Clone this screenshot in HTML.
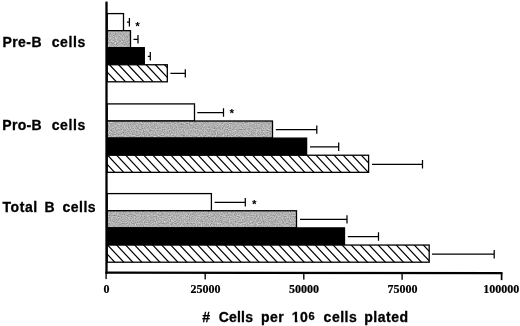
<!DOCTYPE html>
<html><head><meta charset="utf-8"><title>B cells chart</title>
<style>
html,body{margin:0;padding:0;background:#fff;}
body{width:520px;height:326px;overflow:hidden;}
svg{display:block;}
.lab{font-family:"Liberation Sans",Arial,Helvetica,sans-serif;font-weight:bold;font-size:14px;fill:#000;stroke:#000;stroke-width:0.3px;}
.tick{font-family:"Liberation Serif","Times New Roman",serif;font-weight:bold;font-size:12px;fill:#000;text-anchor:middle;stroke:#000;stroke-width:0.2px;}
</style></head><body>
<svg width="520" height="326" viewBox="0 0 520 326">
<defs>

<filter id="noise" x="0" y="0" width="100%" height="100%" color-interpolation-filters="sRGB">
<feTurbulence type="fractalNoise" baseFrequency="0.85" numOctaves="2" seed="7" result="t"/>
<feColorMatrix in="t" type="matrix" values="0.5 0 0 0 0.44  0.5 0 0 0 0.44  0.5 0 0 0 0.44  0 0 0 0 1" result="g"/>
<feComposite in="g" in2="SourceGraphic" operator="in"/>
</filter>
<clipPath id="one"><path d="M285,305H320V326H299.7V320H297.4V326H294.8V320H285Z"/></clipPath>
</defs>
<rect width="520" height="326" fill="#fff"/>

<rect x="107.15" y="13.60" width="16.35" height="17.05" fill="#fff" stroke="#000" stroke-width="1.3"/>
<path d="M127.00,22.23 H129.90 M129.40,18.03 V26.43" stroke="#000" stroke-width="1.25" fill="none"/>
<rect x="107.15" y="30.65" width="23.35" height="17.05" fill="#b4b4b4" filter="url(#noise)"/>
<rect x="107.15" y="30.65" width="23.35" height="17.05" fill="none" stroke="#000" stroke-width="1.3"/>
<path d="M133.50,39.27 H138.50 M138.00,35.07 V43.48" stroke="#000" stroke-width="1.25" fill="none"/>
<rect x="107.15" y="47.70" width="37.15" height="17.05" fill="#000" stroke="#000" stroke-width="1.3"/>
<path d="M147.80,56.33 H150.80 M150.30,52.12 V60.53" stroke="#000" stroke-width="1.25" fill="none"/>
<rect x="107.15" y="64.75" width="60.15" height="17.05" fill="#fff" stroke="#000" stroke-width="1.3"/>
<clipPath id="hc0"><rect x="107.15" y="64.75" width="60.15" height="17.05"/></clipPath>
<path d="M81.09,63.75L99.00,82.80M90.26,63.75L108.17,82.80M99.43,63.75L117.34,82.80M108.60,63.75L126.51,82.80M117.77,63.75L135.68,82.80M126.94,63.75L144.85,82.80M136.11,63.75L154.02,82.80M145.28,63.75L163.19,82.80M154.45,63.75L172.36,82.80M163.62,63.75L181.53,82.80" stroke="#000" stroke-width="1.2" fill="none" clip-path="url(#hc0)"/>
<path d="M170.40,73.38 H185.80 M185.30,69.17 V77.58" stroke="#000" stroke-width="1.25" fill="none"/>
<rect x="107.15" y="103.90" width="87.35" height="17.11" fill="#fff" stroke="#000" stroke-width="1.3"/>
<path d="M197.30,112.56 H224.00 M223.50,108.36 V116.76" stroke="#000" stroke-width="1.25" fill="none"/>
<rect x="107.15" y="121.01" width="165.35" height="17.11" fill="#b4b4b4" filter="url(#noise)"/>
<rect x="107.15" y="121.01" width="165.35" height="17.11" fill="none" stroke="#000" stroke-width="1.3"/>
<path d="M275.80,129.66 H317.30 M316.80,125.46 V133.86" stroke="#000" stroke-width="1.25" fill="none"/>
<rect x="107.15" y="138.12" width="199.45" height="17.11" fill="#000" stroke="#000" stroke-width="1.3"/>
<path d="M310.00,146.78 H339.20 M338.70,142.58 V150.97" stroke="#000" stroke-width="1.25" fill="none"/>
<rect x="107.15" y="155.23" width="261.45" height="17.11" fill="#fff" stroke="#000" stroke-width="1.3"/>
<clipPath id="hc1"><rect x="107.15" y="155.23" width="261.45" height="17.11"/></clipPath>
<path d="M79.49,154.23L97.45,173.34M88.55,154.23L106.51,173.34M97.61,154.23L115.57,173.34M106.67,154.23L124.63,173.34M115.73,154.23L133.69,173.34M124.79,154.23L142.75,173.34M133.85,154.23L151.81,173.34M142.91,154.23L160.87,173.34M151.97,154.23L169.93,173.34M161.03,154.23L178.99,173.34M170.09,154.23L188.05,173.34M179.15,154.23L197.11,173.34M188.21,154.23L206.17,173.34M197.27,154.23L215.23,173.34M206.33,154.23L224.29,173.34M215.39,154.23L233.35,173.34M224.45,154.23L242.41,173.34M233.51,154.23L251.47,173.34M242.57,154.23L260.53,173.34M251.63,154.23L269.59,173.34M260.69,154.23L278.65,173.34M269.75,154.23L287.71,173.34M278.81,154.23L296.77,173.34M287.87,154.23L305.83,173.34M296.93,154.23L314.89,173.34M305.99,154.23L323.95,173.34M315.05,154.23L333.01,173.34M324.11,154.23L342.07,173.34M333.17,154.23L351.13,173.34M342.23,154.23L360.19,173.34M351.29,154.23L369.25,173.34M360.35,154.23L378.31,173.34" stroke="#000" stroke-width="1.2" fill="none" clip-path="url(#hc1)"/>
<path d="M372.00,164.29 H423.00 M422.50,160.09 V168.49" stroke="#000" stroke-width="1.25" fill="none"/>
<rect x="107.15" y="193.60" width="104.25" height="17.15" fill="#fff" stroke="#000" stroke-width="1.3"/>
<path d="M214.60,202.27 H245.80 M245.30,198.07 V206.47" stroke="#000" stroke-width="1.25" fill="none"/>
<rect x="107.15" y="210.75" width="189.35" height="17.15" fill="#b4b4b4" filter="url(#noise)"/>
<rect x="107.15" y="210.75" width="189.35" height="17.15" fill="none" stroke="#000" stroke-width="1.3"/>
<path d="M300.00,219.42 H347.50 M347.00,215.22 V223.62" stroke="#000" stroke-width="1.25" fill="none"/>
<rect x="107.15" y="227.90" width="237.35" height="17.15" fill="#000" stroke="#000" stroke-width="1.3"/>
<path d="M347.80,236.57 H379.00 M378.50,232.37 V240.77" stroke="#000" stroke-width="1.25" fill="none"/>
<rect x="107.15" y="245.05" width="322.05" height="17.15" fill="#fff" stroke="#000" stroke-width="1.3"/>
<clipPath id="hc2"><rect x="107.15" y="245.05" width="322.05" height="17.15"/></clipPath>
<path d="M79.65,244.05L97.66,263.20M88.67,244.05L106.68,263.20M97.69,244.05L115.70,263.20M106.71,244.05L124.72,263.20M115.73,244.05L133.74,263.20M124.75,244.05L142.76,263.20M133.77,244.05L151.78,263.20M142.79,244.05L160.80,263.20M151.81,244.05L169.82,263.20M160.83,244.05L178.84,263.20M169.85,244.05L187.86,263.20M178.87,244.05L196.88,263.20M187.89,244.05L205.90,263.20M196.91,244.05L214.92,263.20M205.93,244.05L223.94,263.20M214.95,244.05L232.96,263.20M223.97,244.05L241.98,263.20M232.99,244.05L251.00,263.20M242.01,244.05L260.02,263.20M251.03,244.05L269.04,263.20M260.05,244.05L278.06,263.20M269.07,244.05L287.08,263.20M278.09,244.05L296.10,263.20M287.11,244.05L305.12,263.20M296.13,244.05L314.14,263.20M305.15,244.05L323.16,263.20M314.17,244.05L332.18,263.20M323.19,244.05L341.20,263.20M332.21,244.05L350.22,263.20M341.23,244.05L359.24,263.20M350.25,244.05L368.26,263.20M359.27,244.05L377.28,263.20M368.29,244.05L386.30,263.20M377.31,244.05L395.32,263.20M386.33,244.05L404.34,263.20M395.35,244.05L413.36,263.20M404.37,244.05L422.38,263.20M413.39,244.05L431.40,263.20M422.41,244.05L440.42,263.20" stroke="#000" stroke-width="1.2" fill="none" clip-path="url(#hc2)"/>
<path d="M432.00,254.22 H494.70 M494.20,250.02 V258.42" stroke="#000" stroke-width="1.25" fill="none"/>
<rect x="105.35" y="1.6" width="2.30" height="271.9" fill="#000"/>
<polygon points="105.35,271.45 502.5,272.05 502.5,274.35 105.35,273.8" fill="#000"/>
<rect x="105.42" y="273" width="1.35" height="6.10" fill="#000"/>
<text class="tick" x="106.50" y="292.9">0</text>
<rect x="204.52" y="273" width="1.35" height="6.40" fill="#000"/>
<text class="tick" x="205.60" y="293.0">25000</text>
<rect x="303.12" y="273" width="1.35" height="6.60" fill="#000"/>
<text class="tick" x="304.00" y="293.1">50000</text>
<rect x="401.43" y="273" width="1.35" height="6.80" fill="#000"/>
<text class="tick" x="402.60" y="293.2">75000</text>
<rect x="500.75" y="273" width="1.7" height="7.10" fill="#000"/>
<text class="tick" x="501.20" y="293.35">100000</text>
<text class="lab" style="font-size:10.5px;stroke-width:0.15px" text-anchor="middle" x="137.6" y="29.900000000000002">*</text>
<text class="lab" style="font-size:10.5px;stroke-width:0.15px" text-anchor="middle" x="231.8" y="117.1">*</text>
<text class="lab" style="font-size:10.5px;stroke-width:0.15px" text-anchor="middle" x="254.2" y="207.8">*</text>
<text class="lab" x="2.43" y="46.8" style="font-size:14px;letter-spacing:0.456px">Pre-B</text>
<text class="lab" x="51.65" y="46.8" style="font-size:14px;letter-spacing:0.631px">cells</text>
<text class="lab" x="2.28" y="129.6" style="font-size:14px;letter-spacing:0.325px">Pro-B</text>
<text class="lab" x="51.65" y="129.6" style="font-size:14px;letter-spacing:0.631px">cells</text>
<text class="lab" x="2.53" y="211.8" style="font-size:14px;letter-spacing:0.556px">Total</text>
<text class="lab" x="44.60" y="211.8" style="font-size:14px;letter-spacing:0.000px">B</text>
<text class="lab" x="62.47" y="211.8" style="font-size:14px;letter-spacing:0.494px">cells</text>
<text class="lab" x="202.20" y="321.7" style="font-size:14px;letter-spacing:0.000px">#</text>
<text class="lab" x="218.65" y="321.7" style="font-size:14px;letter-spacing:0.219px">Cells</text>
<text class="lab" x="261.03" y="321.7" style="font-size:14px;letter-spacing:0.425px">per</text>
<text class="lab" x="291.80" y="321.7" style="font-size:14px;letter-spacing:0.475px" clip-path="url(#one)">10</text>
<text class="lab" x="308.38" y="319.8" style="font-size:11px;letter-spacing:0.000px">6</text>
<text class="lab" x="323.62" y="321.7" style="font-size:14px;letter-spacing:0.506px">cells</text>
<text class="lab" x="364.17" y="321.7" style="font-size:14px;letter-spacing:0.530px">plated</text>
</svg></body></html>
